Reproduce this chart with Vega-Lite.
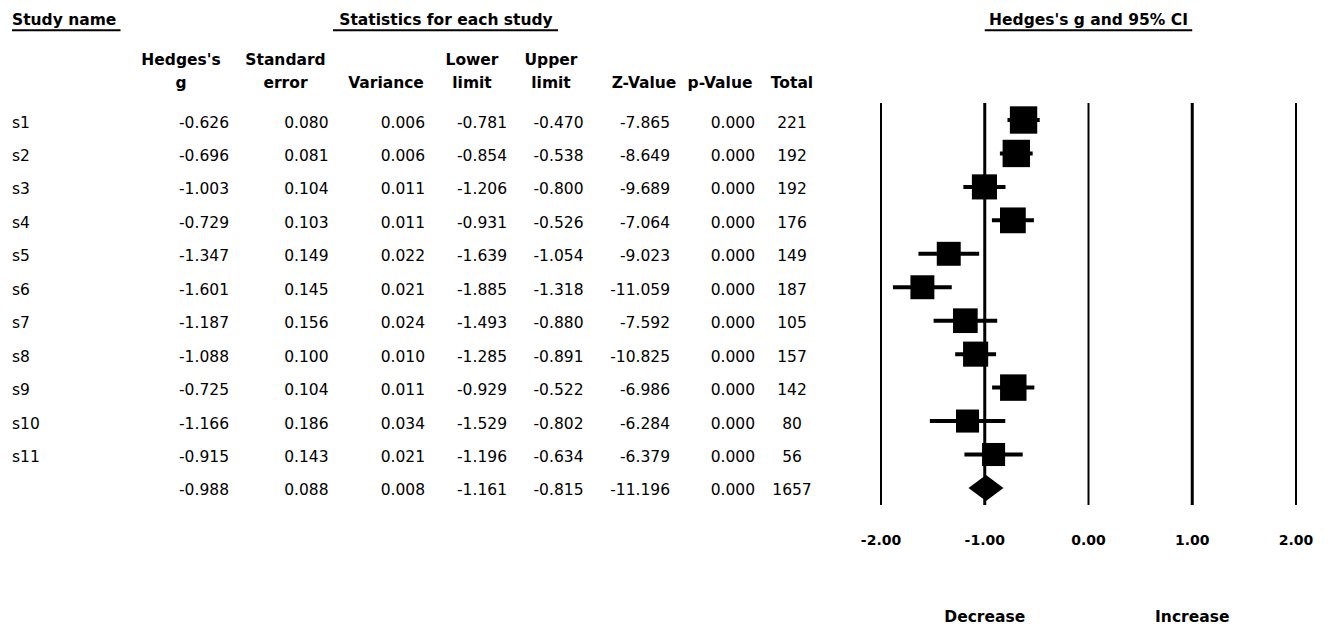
{
  "$schema": "https://vega.github.io/schema/vega-lite/v6.json",
  "width": 1332,
  "height": 631,
  "autosize": "none",
  "padding": 0,
  "background": "white",
  "config": {
    "view": {"stroke": null},
    "font": "DejaVu Sans",
    "text": {"font": "DejaVu Sans", "fontSize": 15.5, "color": "#000000"},
    "locale": {"number": {"decimal": ".", "thousands": ",", "grouping": [3], "currency": ["$", ""], "minus": "-"}}
  },
  "datasets": {
    "studies": [
      {"study": "s1", "type": "study", "g": -0.626, "se": 0.080, "var": 0.006, "lower": -0.781, "upper": -0.470, "z": -7.865, "p": 0.000, "total": 221, "weight": 10.7},
      {"study": "s2", "type": "study", "g": -0.696, "se": 0.081, "var": 0.006, "lower": -0.854, "upper": -0.538, "z": -8.649, "p": 0.000, "total": 192, "weight": 10.7},
      {"study": "s3", "type": "study", "g": -1.003, "se": 0.104, "var": 0.011, "lower": -1.206, "upper": -0.800, "z": -9.689, "p": 0.000, "total": 192, "weight": 9.0},
      {"study": "s4", "type": "study", "g": -0.729, "se": 0.103, "var": 0.011, "lower": -0.931, "upper": -0.526, "z": -7.064, "p": 0.000, "total": 176, "weight": 9.5},
      {"study": "s5", "type": "study", "g": -1.347, "se": 0.149, "var": 0.022, "lower": -1.639, "upper": -1.054, "z": -9.023, "p": 0.000, "total": 149, "weight": 8.2},
      {"study": "s6", "type": "study", "g": -1.601, "se": 0.145, "var": 0.021, "lower": -1.885, "upper": -1.318, "z": -11.059, "p": 0.000, "total": 187, "weight": 8.2},
      {"study": "s7", "type": "study", "g": -1.187, "se": 0.156, "var": 0.024, "lower": -1.493, "upper": -0.880, "z": -7.592, "p": 0.000, "total": 105, "weight": 8.7},
      {"study": "s8", "type": "study", "g": -1.088, "se": 0.100, "var": 0.010, "lower": -1.285, "upper": -0.891, "z": -10.825, "p": 0.000, "total": 157, "weight": 9.0},
      {"study": "s9", "type": "study", "g": -0.725, "se": 0.104, "var": 0.011, "lower": -0.929, "upper": -0.522, "z": -6.986, "p": 0.000, "total": 142, "weight": 10.0},
      {"study": "s10", "type": "study", "g": -1.166, "se": 0.186, "var": 0.034, "lower": -1.529, "upper": -0.802, "z": -6.284, "p": 0.000, "total": 80, "weight": 7.6},
      {"study": "s11", "type": "study", "g": -0.915, "se": 0.143, "var": 0.021, "lower": -1.196, "upper": -0.634, "z": -6.379, "p": 0.000, "total": 56, "weight": 7.6},
      {"study": "pooled", "type": "summary", "g": -0.988, "se": 0.088, "var": 0.008, "lower": -1.161, "upper": -0.815, "z": -11.196, "p": 0.000, "total": 1657}
    ],
    "gridlines": [{"v": -2}, {"v": -1}, {"v": 0}, {"v": 1}, {"v": 2}]
  },
  "data": {"name": "studies"},
  "resolve": {"scale": {"x": "independent"}},
  "layer": [
    {
      "layer": [
        {
          "transform": [{"filter": "datum.type == 'study'"}],
          "mark": {"type": "text", "align": "left", "baseline": "middle", "dy": 2.5},
          "encoding": {
            "x": {"datum": "name", "type": "nominal", "scale": {"type": "point", "domain": ["name", "g", "se", "var", "lower", "upper", "z", "p", "total"], "range": [12, 792], "padding": 0}, "axis": null},
            "y": {"field": "study", "type": "nominal", "scale": {"type": "point", "domain": ["h1", "h2", "h3", "s1", "s2", "s3", "s4", "s5", "s6", "s7", "s8", "s9", "s10", "s11", "pooled", "f1", "f2", "f3", "f4"], "range": [19.65, 621.75], "padding": 0}, "axis": null},
            "text": {"field": "study"}
          }
        },
        {
          "mark": {"type": "text", "align": "right", "baseline": "middle", "dx": 119.5, "dy": 2.5},
          "encoding": {
            "x": {"datum": "g", "type": "nominal", "scale": {"type": "point", "domain": ["name", "g", "se", "var", "lower", "upper", "z", "p", "total"], "range": [12, 792], "padding": 0}, "axis": null},
            "y": {"field": "study", "type": "nominal", "axis": null},
            "text": {"field": "g", "format": ".3f"}
          }
        },
        {
          "mark": {"type": "text", "align": "right", "baseline": "middle", "dx": 121.5, "dy": 2.5},
          "encoding": {
            "x": {"datum": "se", "type": "nominal", "axis": null},
            "y": {"field": "study", "type": "nominal", "axis": null},
            "text": {"field": "se", "format": ".3f"}
          }
        },
        {
          "mark": {"type": "text", "align": "right", "baseline": "middle", "dx": 120.5, "dy": 2.5},
          "encoding": {
            "x": {"datum": "var", "type": "nominal", "axis": null},
            "y": {"field": "study", "type": "nominal", "axis": null},
            "text": {"field": "var", "format": ".3f"}
          }
        },
        {
          "mark": {"type": "text", "align": "right", "baseline": "middle", "dx": 105, "dy": 2.5},
          "encoding": {
            "x": {"datum": "lower", "type": "nominal", "axis": null},
            "y": {"field": "study", "type": "nominal", "axis": null},
            "text": {"field": "lower", "format": ".3f"}
          }
        },
        {
          "mark": {"type": "text", "align": "right", "baseline": "middle", "dx": 84, "dy": 2.5},
          "encoding": {
            "x": {"datum": "upper", "type": "nominal", "axis": null},
            "y": {"field": "study", "type": "nominal", "axis": null},
            "text": {"field": "upper", "format": ".3f"}
          }
        },
        {
          "mark": {"type": "text", "align": "right", "baseline": "middle", "dx": 73, "dy": 2.5},
          "encoding": {
            "x": {"datum": "z", "type": "nominal", "axis": null},
            "y": {"field": "study", "type": "nominal", "axis": null},
            "text": {"field": "z", "format": ".3f"}
          }
        },
        {
          "mark": {"type": "text", "align": "right", "baseline": "middle", "dx": 60.5, "dy": 2.5},
          "encoding": {
            "x": {"datum": "p", "type": "nominal", "axis": null},
            "y": {"field": "study", "type": "nominal", "axis": null},
            "text": {"field": "p", "format": ".3f"}
          }
        },
        {
          "mark": {"type": "text", "align": "center", "baseline": "middle", "dy": 2.5},
          "encoding": {
            "x": {"datum": "total", "type": "nominal", "axis": null},
            "y": {"field": "study", "type": "nominal", "axis": null},
            "text": {"field": "total", "format": "d"}
          }
        },
        {
          "data": {"values": [{}]},
          "mark": {"type": "text", "align": "center", "baseline": "top", "fontWeight": "bold", "lineHeight": 23, "dx": 71.5},
          "encoding": {
            "x": {"datum": "g", "type": "nominal", "axis": null},
            "y": {"datum": "h2", "type": "nominal", "axis": null},
            "text": {"value": ["Hedges's", "g"]}
          }
        },
        {
          "data": {"values": [{}]},
          "mark": {"type": "text", "align": "center", "baseline": "top", "fontWeight": "bold", "lineHeight": 23, "dx": 78.5},
          "encoding": {
            "x": {"datum": "se", "type": "nominal", "axis": null},
            "y": {"datum": "h2", "type": "nominal", "axis": null},
            "text": {"value": ["Standard", "error"]}
          }
        },
        {
          "data": {"values": [{}]},
          "mark": {"type": "text", "align": "center", "baseline": "top", "fontWeight": "bold", "lineHeight": 23, "dx": 81.5},
          "encoding": {
            "x": {"datum": "var", "type": "nominal", "axis": null},
            "y": {"datum": "h2", "type": "nominal", "axis": null},
            "text": {"value": ["", "Variance"]}
          }
        },
        {
          "data": {"values": [{}]},
          "mark": {"type": "text", "align": "center", "baseline": "top", "fontWeight": "bold", "lineHeight": 23, "dx": 70},
          "encoding": {
            "x": {"datum": "lower", "type": "nominal", "axis": null},
            "y": {"datum": "h2", "type": "nominal", "axis": null},
            "text": {"value": ["Lower", "limit"]}
          }
        },
        {
          "data": {"values": [{}]},
          "mark": {"type": "text", "align": "center", "baseline": "top", "fontWeight": "bold", "lineHeight": 23, "dx": 51.5},
          "encoding": {
            "x": {"datum": "upper", "type": "nominal", "axis": null},
            "y": {"datum": "h2", "type": "nominal", "axis": null},
            "text": {"value": ["Upper", "limit"]}
          }
        },
        {
          "data": {"values": [{}]},
          "mark": {"type": "text", "align": "center", "baseline": "top", "fontWeight": "bold", "lineHeight": 23, "dx": 47},
          "encoding": {
            "x": {"datum": "z", "type": "nominal", "axis": null},
            "y": {"datum": "h2", "type": "nominal", "axis": null},
            "text": {"value": ["", "Z-Value"]}
          }
        },
        {
          "data": {"values": [{}]},
          "mark": {"type": "text", "align": "center", "baseline": "top", "fontWeight": "bold", "lineHeight": 23, "dx": 25.5},
          "encoding": {
            "x": {"datum": "p", "type": "nominal", "axis": null},
            "y": {"datum": "h2", "type": "nominal", "axis": null},
            "text": {"value": ["", "p-Value"]}
          }
        },
        {
          "data": {"values": [{}]},
          "mark": {"type": "text", "align": "center", "baseline": "top", "fontWeight": "bold", "lineHeight": 23},
          "encoding": {
            "x": {"datum": "total", "type": "nominal", "axis": null},
            "y": {"datum": "h2", "type": "nominal", "axis": null},
            "text": {"value": ["", "Total"]}
          }
        },
        {
          "data": {"values": [{}]},
          "mark": {"type": "text", "align": "left", "baseline": "middle", "fontWeight": "bold"},
          "encoding": {
            "x": {"datum": "name", "type": "nominal", "axis": null},
            "y": {"datum": "h1", "type": "nominal", "axis": null},
            "text": {"value": "Study name"}
          }
        },
        {
          "data": {"values": [{}]},
          "mark": {"type": "rule", "color": "#000000", "strokeWidth": 2, "yOffset": 10.5, "x2Offset": 11},
          "encoding": {
            "x": {"datum": "name", "type": "nominal", "axis": null},
            "x2": {"datum": "g"},
            "y": {"datum": "h1", "type": "nominal", "axis": null}
          }
        },
        {
          "data": {"values": [{}]},
          "mark": {"type": "text", "align": "center", "baseline": "middle", "fontWeight": "bold", "dx": 44},
          "encoding": {
            "x": {"datum": "lower", "type": "nominal", "axis": null},
            "y": {"datum": "h1", "type": "nominal", "axis": null},
            "text": {"value": "Statistics for each study"}
          }
        },
        {
          "data": {"values": [{}]},
          "mark": {"type": "rule", "color": "#000000", "strokeWidth": 2, "yOffset": 10.5, "xOffset": 28.5, "x2Offset": 58.5},
          "encoding": {
            "x": {"datum": "var", "type": "nominal", "axis": null},
            "x2": {"datum": "upper"},
            "y": {"datum": "h1", "type": "nominal", "axis": null}
          }
        }
      ]
    },
    {
      "layer": [
        {
          "data": {"name": "gridlines"},
          "mark": {"type": "rule", "color": "#000000", "yOffset": -17, "y2Offset": 17, "strokeCap": "butt"},
          "encoding": {
            "x": {"field": "v", "type": "quantitative", "scale": {"domain": [-2, 2], "range": [881, 1296], "nice": false, "zero": false}, "axis": null},
            "y": {"datum": "s1", "type": "nominal", "axis": null},
            "y2": {"datum": "pooled"},
            "strokeWidth": {"condition": {"test": "abs(datum.v) == 1", "value": 3}, "value": 2}
          }
        },
        {
          "data": {"name": "gridlines"},
          "mark": {"type": "text", "align": "center", "baseline": "alphabetic", "fontWeight": "bold", "fontSize": 14, "dy": 23.5},
          "encoding": {
            "x": {"field": "v", "type": "quantitative", "axis": null},
            "y": {"datum": "f1", "type": "nominal", "axis": null},
            "text": {"field": "v", "type": "quantitative", "format": ".2f"}
          }
        },
        {
          "transform": [{"filter": "datum.type == 'study'"}],
          "mark": {"type": "rule", "color": "#000000", "strokeWidth": 4, "strokeCap": "butt"},
          "encoding": {
            "x": {"field": "lower", "type": "quantitative", "axis": null},
            "x2": {"field": "upper"},
            "y": {"field": "study", "type": "nominal", "axis": null}
          }
        },
        {
          "transform": [{"filter": "datum.type == 'study'"}],
          "mark": {"type": "point", "shape": "square", "filled": true, "color": "#000000", "opacity": 1},
          "encoding": {
            "x": {"field": "g", "type": "quantitative", "axis": null},
            "y": {"field": "study", "type": "nominal", "axis": null},
            "size": {"field": "weight", "type": "quantitative", "scale": {"domain": [0, 10], "range": [0, 700]}, "legend": null}
          }
        },
        {
          "transform": [{"filter": "datum.type == 'summary'"}],
          "mark": {"type": "point", "shape": "M-1,0L0,-0.743L1,0L0,0.743Z", "filled": true, "color": "#000000", "opacity": 1, "size": 1225},
          "encoding": {
            "x": {"field": "g", "type": "quantitative", "axis": null},
            "y": {"field": "study", "type": "nominal", "axis": null}
          }
        },
        {
          "data": {"values": [{}]},
          "mark": {"type": "text", "align": "center", "baseline": "middle", "fontWeight": "bold"},
          "encoding": {
            "x": {"datum": 0, "type": "quantitative", "axis": null},
            "y": {"datum": "h1", "type": "nominal", "axis": null},
            "text": {"value": "Hedges's g and 95% CI"}
          }
        },
        {
          "data": {"values": [{}]},
          "mark": {"type": "rule", "color": "#000000", "strokeWidth": 2, "yOffset": 10.5},
          "encoding": {
            "x": {"datum": -1, "type": "quantitative", "axis": null},
            "x2": {"datum": 1},
            "y": {"datum": "h1", "type": "nominal", "axis": null}
          }
        },
        {
          "data": {"values": [{}]},
          "mark": {"type": "text", "align": "center", "baseline": "alphabetic", "fontWeight": "bold"},
          "encoding": {
            "x": {"datum": -1, "type": "quantitative", "axis": null},
            "y": {"datum": "f4", "type": "nominal", "axis": null},
            "text": {"value": "Decrease"}
          }
        },
        {
          "data": {"values": [{}]},
          "mark": {"type": "text", "align": "center", "baseline": "alphabetic", "fontWeight": "bold"},
          "encoding": {
            "x": {"datum": 1, "type": "quantitative", "axis": null},
            "y": {"datum": "f4", "type": "nominal", "axis": null},
            "text": {"value": "Increase"}
          }
        }
      ]
    }
  ]
}
